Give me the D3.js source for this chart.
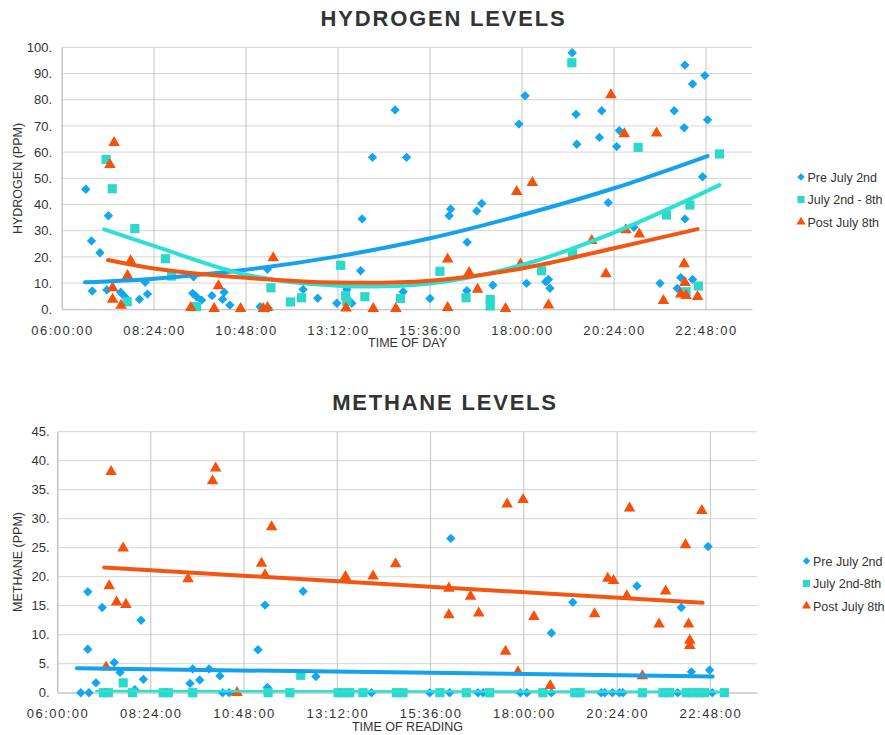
<!DOCTYPE html>
<html>
<head>
<meta charset="utf-8">
<script src="https://cdn.jsdelivr.net/npm/d3@7/dist/d3.min.js"></script>
<style>
  body { margin: 0; background: #fff; }
  svg text { font-family: Arial, "Liberation Sans", sans-serif; fill: #333; }
</style>
</head>
<body>
<svg id="chart" width="885" height="735"></svg>
<script>
// ---- data (time of day in decimal hours, value in ppm) ----
const timeTicks = ["06:00:00", "08:24:00", "10:48:00", "13:12:00", "15:36:00", "18:00:00", "20:24:00", "22:48:00"];

const h2Pre = [[6.62,45.8],[6.77,26.1],[6.79,7.0],[6.99,21.6],[7.17,7.4],[7.21,35.7],[7.53,6.5],[7.64,4.8],[8.02,3.8],[8.17,10.3],[8.23,5.8],
  [9.41,6.1],[9.43,12.4],[9.51,4.8],[9.64,3.5],[9.91,5.2],[10.19,3.8],[10.23,6.5],[10.38,1.6],[11.17,1.0],[11.36,15.3],[11.38,0.4],
  [12.29,7.6],[12.67,4.2],[13.17,2.3],[13.43,7.6],[13.56,2.3],[13.79,14.7],[13.83,34.5],[14.10,58.0],[14.69,76.1],[14.90,6.7],[14.99,58.0],
  [15.60,4.1],[16.10,35.7],[16.14,38.3],[16.56,7.1],[16.57,25.6],[16.82,37.5],[16.95,40.4],[17.24,9.2],[17.92,70.7],[18.08,81.5],[18.12,9.9],
  [18.62,10.5],[18.69,11.4],[18.73,8.0],[19.31,97.9],[19.41,74.4],[19.43,63.0],[20.02,65.6],[20.08,75.8],[20.25,40.7],[20.47,62.1],[20.54,68.2],
  [20.92,31.3],[21.60,9.9],[21.97,75.8],[22.05,8.0],[22.14,12.1],[22.23,69.3],[22.25,93.2],[22.25,34.5],[22.45,86.0],[22.45,11.4],[22.71,50.6],
  [22.77,89.2],[22.84,72.3]];
const h2Mid = [[7.15,57.2],[7.31,46.0],[7.70,2.9],[7.90,30.8],[8.70,19.3],[8.86,12.7],[9.51,1.0],[11.45,8.2],[11.96,2.8],[12.25,4.4],
  [13.27,16.8],[13.40,5.2],[13.43,3.0],[13.90,4.8],[14.83,4.1],[15.86,14.5],[16.54,4.4],[17.17,3.8],[17.17,1.3],[18.51,14.7],[19.30,94.1],
  [19.32,21.6],[21.03,61.8],[21.77,36.0],[22.28,6.7],[22.38,39.8],[22.60,8.9],[23.15,59.3]];
const h2Post = [[7.25,55.2],[7.32,8.2],[7.32,3.8],[7.36,63.6],[7.54,1.5],[7.71,12.8],[7.79,18.5],[9.36,0.6],[9.97,0.2],[10.08,8.9],[10.66,0.2],
  [11.25,0.2],[11.36,0.6],[11.51,19.6],[13.41,0.4],[14.12,0.2],[14.71,0.2],[16.06,0.6],[16.06,19.1],[16.62,14.0],[16.84,7.6],[17.57,0.2],
  [17.86,44.9],[17.96,17.2],[18.27,48.3],[18.69,1.6],[19.82,26.2],[20.19,13.5],[20.32,81.8],[20.67,66.9],[20.71,30.3],[21.06,28.7],[21.51,67.2],
  [21.69,3.3],[22.14,5.8],[22.23,17.3],[22.25,10.2],[22.28,5.2],[22.58,4.8]];

// trend lines (polynomial, order 2)
const h2TrendPre = [[6.6,10.3],[8.4,11.7],[10.8,15.1],[13.2,20.2],[15.6,27.1],[18.0,36.0],[20.4,46.2],[22.84,58.5]];
const h2TrendMid = [[7.1,30.5],[8.4,24.2],[10.8,13.2],[13.2,9.0],[15.6,9.8],[18.0,16.9],[20.4,29.3],[23.15,47.4]];
const h2TrendPost = [[7.2,18.8],[8.4,15.6],[10.8,12.0],[13.2,10.2],[15.6,10.9],[18.0,15.6],[20.4,23.3],[22.58,30.6]];

const ch4Pre = [[6.60,0],[6.78,17.4],[6.78,7.5],[6.81,0],[6.99,1.7],[7.15,14.7],[7.46,5.2],[7.61,3.5],[7.99,0.5],[8.15,12.5],[8.21,2.3],
  [9.41,1.6],[9.48,4.1],[9.66,2.2],[9.90,4.1],[10.18,2.9],[10.25,0],[10.42,0],[11.16,7.4],[11.34,15.1],[11.40,0.9],[12.32,17.5],[12.65,2.8],
  [14.08,0],[15.58,0],[16.09,0],[16.12,26.6],[16.82,0],[16.95,0],[17.91,0],[18.08,0],[18.71,10.3],[18.71,0],[19.26,15.6],[19.99,0],[20.08,0],
  [20.28,0],[20.46,0],[20.55,0],[20.91,18.4],[21.96,0],[22.05,14.7],[22.31,3.6],[22.74,25.2],[22.78,3.9],[22.85,0]];
const ch4Mid = [[7.18,0],[7.31,0],[7.69,1.7],[7.93,0],[8.72,0],[8.85,0],[9.48,0],[11.42,0],[11.98,0],[12.26,3.0],[13.22,0],[13.35,0],[13.52,0],
  [13.86,0],[14.72,0],[14.89,0],[15.84,0],[16.52,0],[17.12,0],[18.49,0],[19.31,0],[19.45,0],[21.05,0],[21.58,0],[21.75,0],[22.18,0],[22.35,0],
  [22.52,0],[22.65,0],[23.16,0]];
const ch4Post = [[7.25,4.4],[7.33,18.4],[7.38,38.1],[7.52,15.6],[7.69,24.9],[7.76,15.2],[9.36,19.6],[9.99,36.5],[10.07,38.7],[10.62,0],
  [11.25,22.3],[11.34,20.3],[11.51,28.6],[13.41,20.0],[14.12,20.1],[14.70,22.2],[16.07,18.0],[16.07,13.4],[16.63,16.6],[16.84,13.7],[17.53,7.1],
  [17.57,32.5],[17.85,3.6],[17.98,33.3],[18.26,13.1],[18.68,1.2],[19.82,13.6],[20.16,19.7],[20.31,19.3],[20.65,16.7],[20.72,31.8],[21.05,2.9],
  [21.48,11.8],[21.65,17.5],[22.16,25.5],[22.24,11.8],[22.27,9.0],[22.27,8.1],[22.58,31.4]];

// linear trend lines
const ch4TrendPre = [[6.5,4.2],[22.86,2.8]];
const ch4TrendMid = [[7.0,0.3],[23.16,0.15]];
const ch4TrendPost = [[7.2,21.6],[22.6,15.5]];

const h2Names = ["Pre July 2nd", "July 2nd - 8th", "Post July 8th"];
const ch4Names = ["Pre July 2nd", "July 2nd-8th", "Post July 8th"];

// ---- drawing ----
const svg = d3.select("#chart");
const colors = { pre: "#12a6ef", mid: "#2bd8cb", post: "#f7500a" };
const trendColors = { pre: "#14a2ec", mid: "#2ee0d3", post: "#f25612" };

function toHours(s) {
  const p = s.split(":").map(Number);
  return p[0] + p[1] / 60 + p[2] / 3600;
}

function marker(shape, scale) {
  const k = scale || 1;
  if (shape === "diamond") return { d: d3.symbol(d3.symbolSquare, 44 * k * k)(), rot: 45 };
  if (shape === "square") return { d: d3.symbol(d3.symbolSquare, 84 * k * k)(), rot: 0 };
  return { d: d3.symbol(d3.symbolTriangle, 58 * k * k)(), rot: 0 };
}

function drawPanel(cfg) {
  const g = svg.append("g");
  const x = d3.scaleLinear().domain([6, 24]).range([cfg.left, cfg.right]);
  const y = d3.scaleLinear().domain([0, cfg.yMax]).range([cfg.bottom, cfg.top]);
  const yTicks = d3.range(0, cfg.yMax + 0.001, cfg.yStep);
  const xTicks = timeTicks.map(toHours);

  // grid
  g.append("g").selectAll("line").data(yTicks).join("line")
    .attr("x1", cfg.left).attr("x2", cfg.right)
    .attr("y1", d => y(d)).attr("y2", d => y(d))
    .attr("stroke", "#d6d6d6").attr("stroke-width", 1);
  g.append("g").selectAll("line").data(xTicks).join("line")
    .attr("x1", d => x(d)).attr("x2", d => x(d))
    .attr("y1", cfg.top).attr("y2", cfg.bottom)
    .attr("stroke", "#c4c4c4").attr("stroke-width", 1);

  // axes
  const yAxis = g.append("g")
    .attr("transform", "translate(" + cfg.left + ",0)")
    .call(d3.axisLeft(y).tickValues(yTicks).tickSize(0).tickPadding(cfg.yPad).tickFormat(d => d + "."));
  yAxis.select(".domain").attr("stroke", "#c4c4c4");
  yAxis.selectAll("text").style("font-size", "13px").attr("fill", "#333");

  const xAxis = g.append("g")
    .attr("transform", "translate(0," + cfg.bottom + ")")
    .call(d3.axisBottom(x).tickValues(xTicks).tickSize(0).tickPadding(cfg.xPad)
      .tickFormat((d, i) => timeTicks[i]));
  xAxis.select(".domain").attr("stroke", "#c4c4c4");
  xAxis.selectAll("text").style("font-size", "13px").style("letter-spacing", "1.5px").attr("fill", "#333");

  // titles
  g.append("text").attr("x", cfg.titleX).attr("y", cfg.titleY)
    .attr("text-anchor", "middle").style("font-size", "22px").style("font-weight", "bold")
    .style("letter-spacing", "1.8px").attr("fill", "#222").text(cfg.title);
  g.append("text").attr("x", cfg.xLabelX).attr("y", cfg.xLabelY)
    .attr("text-anchor", "middle").style("font-size", "12.5px").text(cfg.xLabel);
  g.append("text")
    .attr("transform", "translate(22," + cfg.yLabelY + ") rotate(-90)")
    .attr("text-anchor", "middle").style("font-size", "12.5px").text(cfg.yLabel);

  // points
  cfg.series.forEach(s => {
    const m = marker(s.shape);
    g.append("g").selectAll("path").data(s.data).join("path")
      .attr("d", m.d)
      .attr("transform", d => "translate(" + x(d[0]) + "," + y(d[1]) + ") rotate(" + m.rot + ")")
      .attr("fill", colors[s.key]);
  });

  // trend lines
  const line = d3.line().x(d => x(d[0])).y(d => y(d[1])).curve(d3.curveCatmullRom.alpha(0.5));
  cfg.series.forEach(s => {
    g.append("path").datum(s.trend)
      .attr("d", line)
      .attr("fill", "none")
      .attr("stroke", trendColors[s.key])
      .attr("stroke-width", s.trendWidth || 4)
      .attr("stroke-linecap", "round");
  });

  // legend
  cfg.series.forEach((s, i) => {
    const ly = cfg.legendY + i * 22.5;
    const m = marker(s.shape, 0.78);
    g.append("path").attr("d", m.d)
      .attr("transform", "translate(" + cfg.legendX + "," + ly + ") rotate(" + m.rot + ")")
      .attr("fill", colors[s.key]);
    g.append("text").attr("x", cfg.legendX + 6.5).attr("y", ly + 4.5)
      .style("font-size", "12.5px").text(cfg.names[i]);
  });
}

drawPanel({
  left: 62, right: 752, top: 47.3, bottom: 309.3, yMax: 100, yStep: 10, yPad: 10, xPad: 16,
  title: "HYDROGEN LEVELS", titleX: 443.5, titleY: 26,
  xLabel: "TIME OF DAY", xLabelX: 407.5, xLabelY: 347,
  yLabel: "HYDROGEN (PPM)", yLabelY: 178.5,
  legendX: 801, legendY: 177, names: h2Names,
  series: [
    { key: "pre", shape: "diamond", data: h2Pre, trend: h2TrendPre },
    { key: "mid", shape: "square", data: h2Mid, trend: h2TrendMid },
    { key: "post", shape: "triangle", data: h2Post, trend: h2TrendPost }
  ]
});

drawPanel({
  left: 57.5, right: 757, top: 431.7, bottom: 692.7, yMax: 45, yStep: 5, yPad: 8, xPad: 16,
  title: "METHANE LEVELS", titleX: 445, titleY: 410,
  xLabel: "TIME OF READING", xLabelX: 407.5, xLabelY: 731,
  yLabel: "METHANE (PPM)", yLabelY: 562,
  legendX: 806.5, legendY: 561, names: ch4Names,
  series: [
    { key: "pre", shape: "diamond", data: ch4Pre, trend: ch4TrendPre },
    { key: "mid", shape: "square", data: ch4Mid, trend: ch4TrendMid, trendWidth: 2.5 },
    { key: "post", shape: "triangle", data: ch4Post, trend: ch4TrendPost }
  ]
});
</script>
</body>
</html>
